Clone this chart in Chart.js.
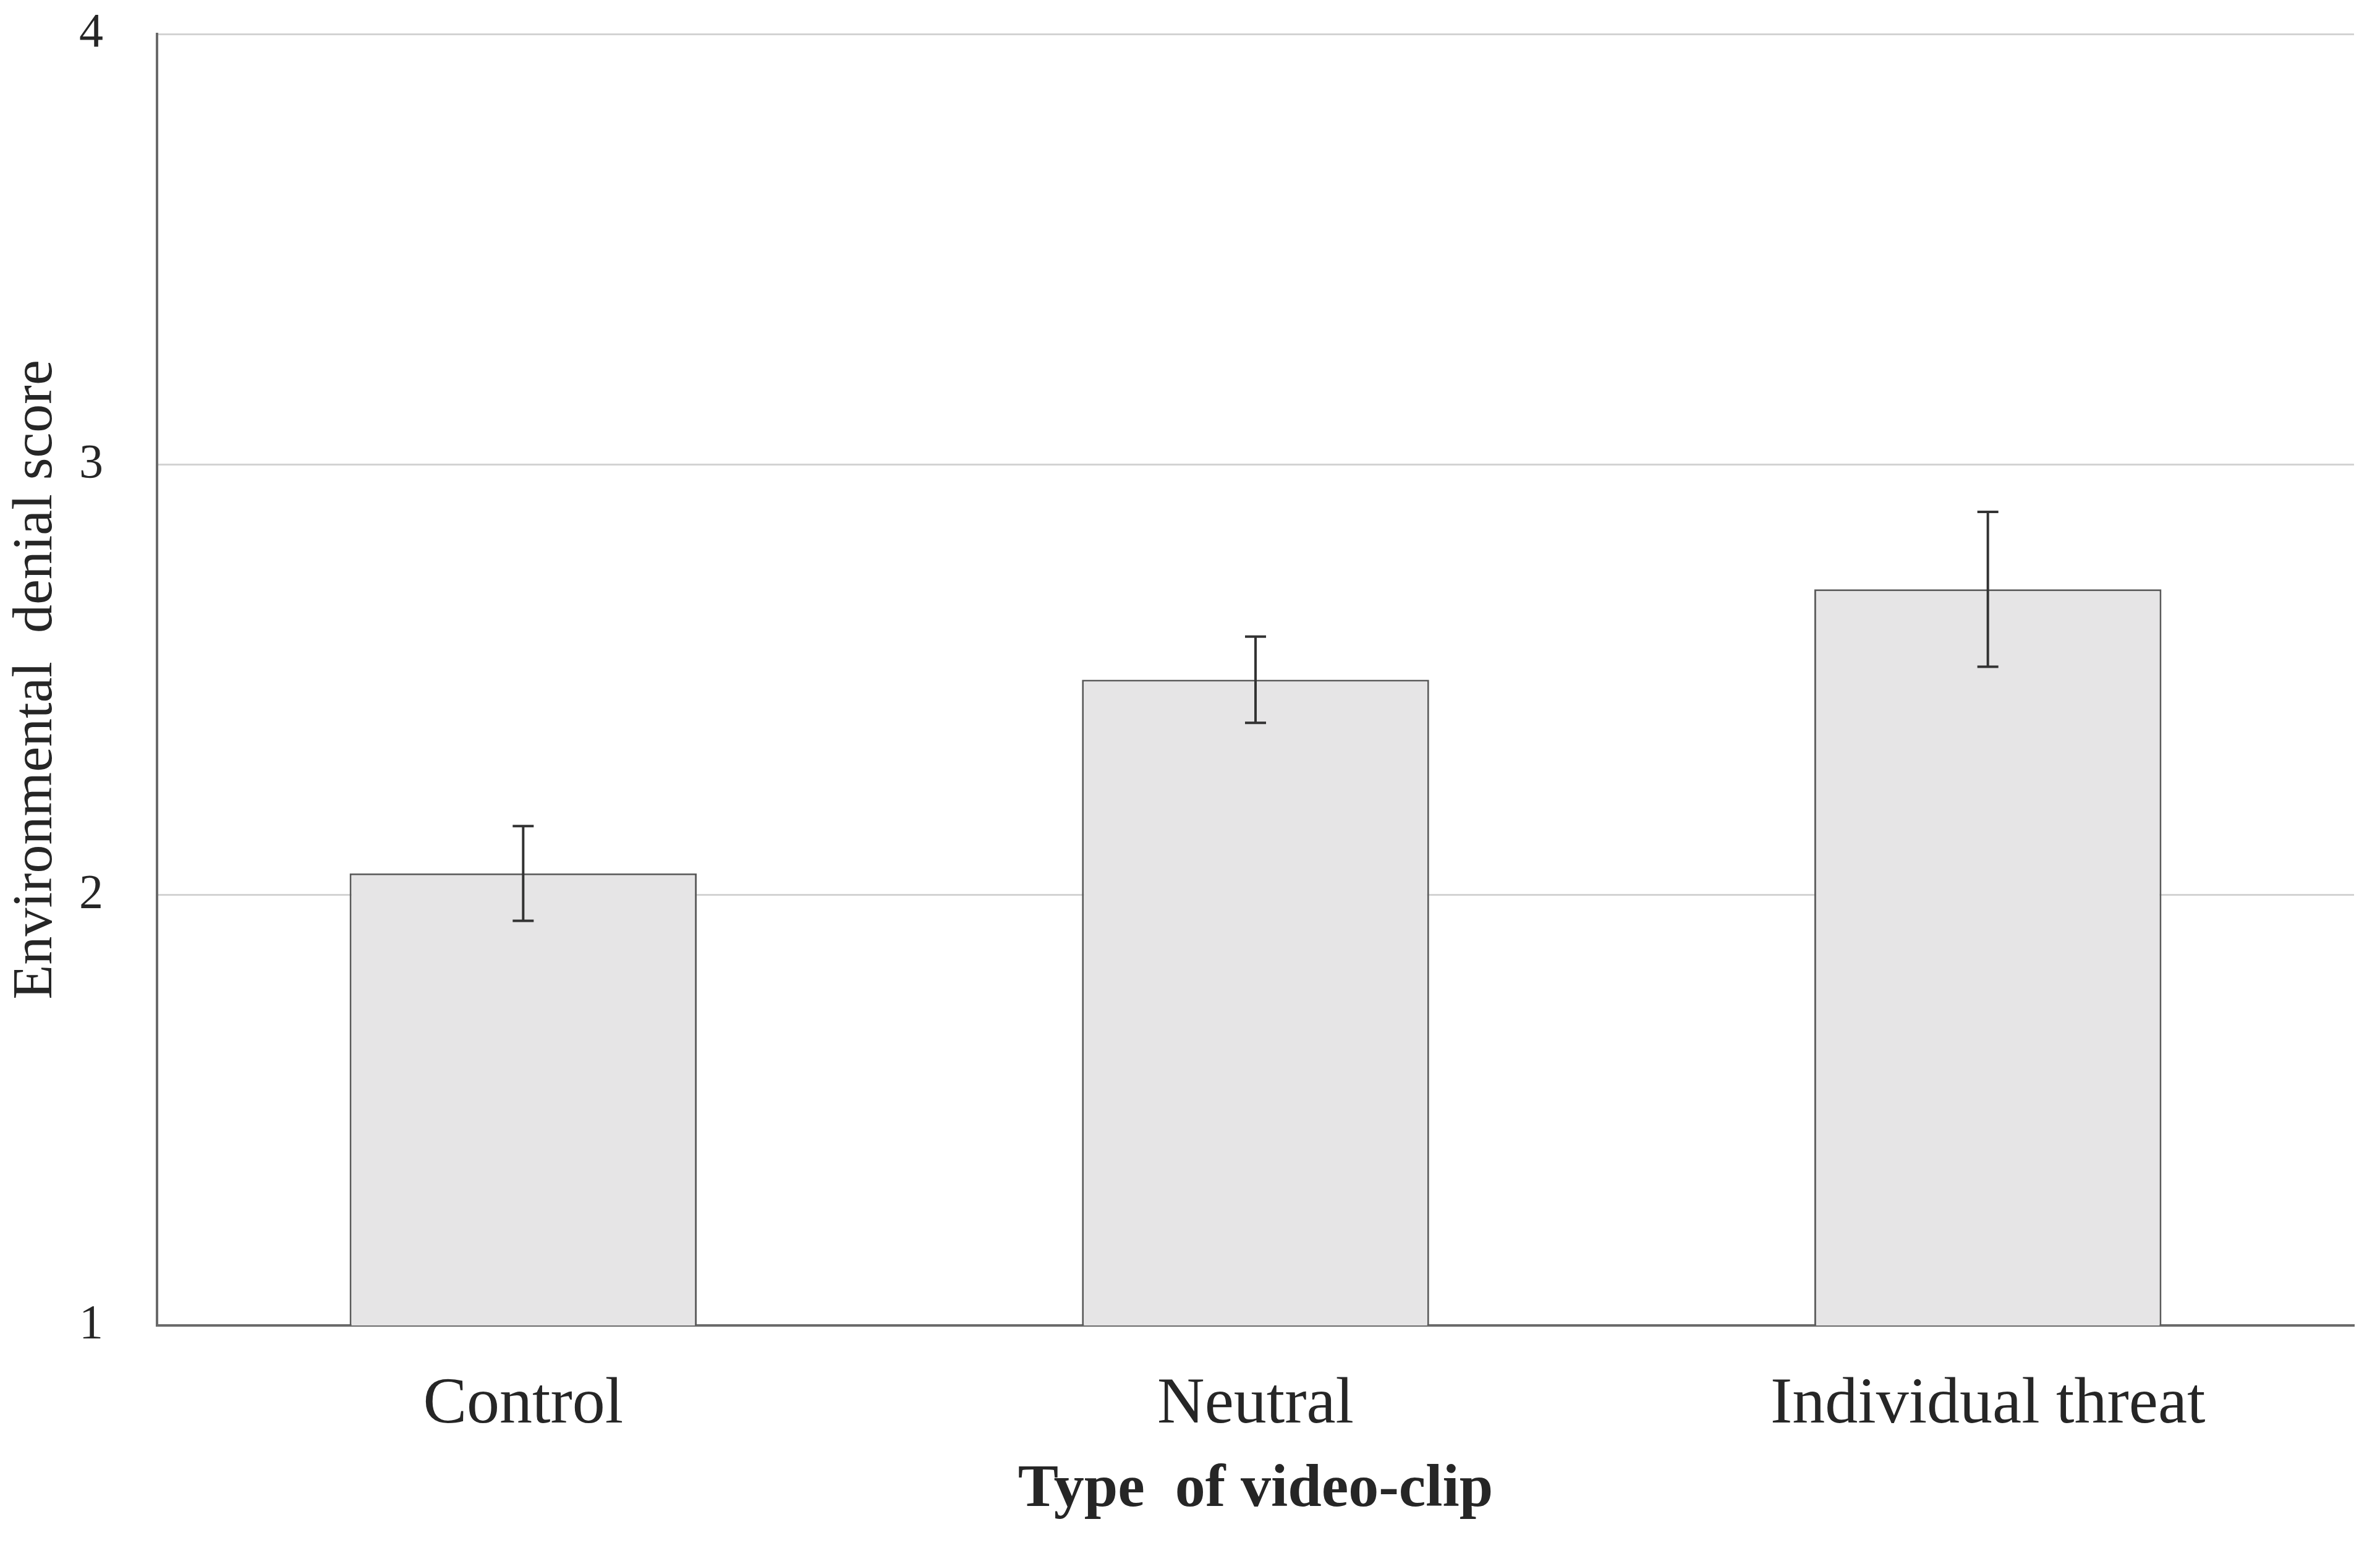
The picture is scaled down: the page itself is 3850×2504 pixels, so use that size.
<!DOCTYPE html>
<html>
<head>
<meta charset="utf-8">
<script src="https://cdn.jsdelivr.net/npm/chart.js@4.4.1/dist/chart.umd.min.js"></script>
<style>
html,body{margin:0;padding:0;background:#ffffff;}
canvas{display:block;}
</style>
</head>
<body>
<canvas id="c" width="3850" height="2504"></canvas>
<script>
const categories = ["Control", "Neutral", "Individual threat"];
const meanScores = [2.05, 2.50, 2.71];
const errLow = [1.94, 2.40, 2.53];
const errHigh = [2.16, 2.60, 2.89];
const yTicks = [1, 2, 3, 4];
const xTitle = "Type  of video-clip";
const yTitle = "Environmental  denial score";

const errorBars = {
  id: 'errorBars',
  afterDatasetsDraw(chart) {
    const ctx = chart.ctx;
    const xs = chart.scales.x, ys = chart.scales.y;
    ctx.save();
    ctx.strokeStyle = '#333333';
    ctx.lineWidth = 4;
    ctx.lineCap = 'butt';
    for (let i = 0; i < categories.length; i++) {
      const x = xs.getPixelForValue(i);
      const yl = ys.getPixelForValue(errLow[i]);
      const yh = ys.getPixelForValue(errHigh[i]);
      const cap = 17;
      ctx.beginPath();
      ctx.moveTo(x, yl); ctx.lineTo(x, yh);
      ctx.moveTo(x - cap, yh); ctx.lineTo(x + cap, yh);
      ctx.moveTo(x - cap, yl); ctx.lineTo(x + cap, yl);
      ctx.stroke();
    }
    ctx.restore();
  }
};

new Chart(document.getElementById('c'), {
  type: 'bar',
  data: {
    labels: categories,
    datasets: [{
      data: meanScores,
      backgroundColor: '#e6e5e6',
      borderColor: '#5a5a5a',
      borderWidth: 3,
      borderSkipped: false,
      categoryPercentage: 1.0,
      barPercentage: 0.474
    }]
  },
  options: {
    responsive: false,
    devicePixelRatio: 1,
    animation: false,
    layout: { padding: { top: 55, right: 42, bottom: 0, left: 0 } },
    plugins: { legend: { display: false }, tooltip: { enabled: false } },
    scales: {
      x: {
        afterFit(s) { s.height = 360; s.paddingLeft = 0; s.paddingRight = 0; },
        grid: { display: false },
        border: { display: true, color: '#6a6a6a', width: 4 },
        ticks: {
          padding: 58,
          color: '#262626',
          font: { family: 'Liberation Serif', size: 106 }
        },
        title: {
          display: true,
          text: xTitle,
          color: '#262626',
          padding: { top: 0, bottom: 35 },
          font: { family: 'Liberation Serif', size: 98, weight: 'bold' }
        }
      },
      y: {
        min: 1,
        max: 4,
        afterFit(s) { s.width = 254; s.paddingTop = 0; s.paddingBottom = 0; },
        afterBuildTicks(s) { s.ticks = yTicks.map(v => ({ value: v })); },
        grid: { color: '#d3d3d3', lineWidth: 3, drawTicks: false },
        border: { display: true, color: '#6a6a6a', width: 4 },
        ticks: {
          padding: 87,
          color: '#262626',
          font: { family: 'Liberation Serif', size: 78 }
        },
        title: {
          display: true,
          text: yTitle,
          color: '#262626',
          padding: { top: 4, bottom: 0 },
          font: { family: 'Liberation Serif', size: 92 }
        }
      }
    }
  },
  plugins: [errorBars]
});
</script>
</body>
</html>
